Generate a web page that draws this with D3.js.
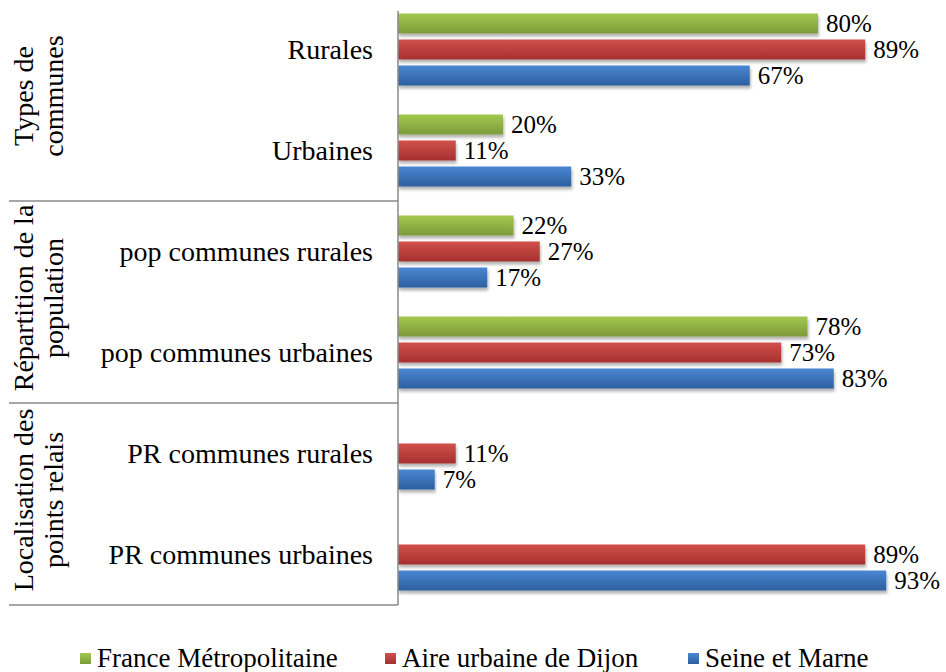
<!DOCTYPE html>
<html>
<head>
<meta charset="utf-8">
<script src="https://cdnjs.cloudflare.com/ajax/libs/d3/7.8.5/d3.min.js"></script>
<style>
  body { margin: 0; background: #fff; }
  svg { display: block; }
</style>
</head>
<body>
<svg width="946" height="672"></svg>
<script>
const categories = ['Rurales', 'Urbaines', 'pop communes rurales', 'pop communes urbaines',
  'PR communes rurales', 'PR communes urbaines'];
const groups = [
  ['Types de', 'communes'],
  ['Répartition de la', 'population'],
  ['Localisation des', 'points relais'],
];
const seriesNames = ['France Métropolitaine', 'Aire urbaine de Dijon', 'Seine et Marne'];
const france = [80, 20, 22, 78, null, null];
const dijon = [89, 11, 27, 73, 11, 89];
const seine = [67, 33, 17, 83, 7, 93];

const series = [france, dijon, seine];
const colors = [
  { top: '#a3c94f', bottom: '#7c9a3a' },
  { top: '#d2504c', bottom: '#a5302e' },
  { top: '#4a87d2', bottom: '#2d5f9f' },
];

const svg = d3.select('svg');
const font = 'Liberation Serif, serif';

const axisX = 398;
const plotTop = -1;
const plotBottom = 605;

const x = d3.scaleLinear().domain([0, 100]).range([axisX, axisX + 525]);
const y = d3.scaleBand().domain(categories).range([plotTop, plotBottom]);
const inner = d3.scaleBand().domain(d3.range(3))
  .range([(y.bandwidth() - 78) / 2, (y.bandwidth() + 78) / 2])
  .paddingInner(0.23).paddingOuter(0.115);

const defs = svg.append('defs');
colors.forEach((c, i) => {
  const g = defs.append('linearGradient').attr('id', `grad${i}`)
    .attr('x1', 0).attr('y1', 0).attr('x2', 0).attr('y2', 1);
  g.append('stop').attr('offset', '0%').attr('stop-color', c.top);
  g.append('stop').attr('offset', '100%').attr('stop-color', c.bottom);
});
defs.append('filter').attr('id', 'shadow')
  .attr('x', '-5%').attr('y', '-20%').attr('width', '110%').attr('height', '160%')
  .append('feDropShadow')
  .attr('dx', 1).attr('dy', 3).attr('stdDeviation', 1.5)
  .attr('flood-color', '#000').attr('flood-opacity', 0.3);

// bars
const bars = svg.append('g');
series.forEach((values, s) => {
  const data = categories.map((c, i) => ({ cat: c, v: values[i] })).filter((d) => d.v != null);
  bars.selectAll(null).data(data).enter()
    .append('rect')
    .attr('x', x(0))
    .attr('y', (d) => y(d.cat) + inner(s))
    .attr('width', (d) => x(d.v) - x(0))
    .attr('height', inner.bandwidth())
    .attr('fill', `url(#grad${s})`)
    .attr('filter', 'url(#shadow)');

  svg.selectAll(null).data(data).enter()
    .append('text')
    .attr('x', (d) => x(d.v) + 8)
    .attr('y', (d) => y(d.cat) + inner(s) + inner.bandwidth() / 2 + 8)
    .attr('font-family', font)
    .attr('font-size', 25)
    .attr('fill', '#000')
    .text((d) => `${d.v}%`);
});

// axis and group separators
const lines = svg.append('g').attr('stroke', '#8a8a8a').attr('stroke-width', 1.5);
lines.append('line').attr('x1', axisX).attr('x2', axisX).attr('y1', 11).attr('y2', plotBottom);
groups.forEach((g, i) => {
  const yb = y(categories[i * 2 + 1]) + y.bandwidth();
  lines.append('line').attr('x1', 9).attr('x2', axisX).attr('y1', yb).attr('y2', yb);
});

// category labels
svg.append('g').selectAll('text').data(categories).enter()
  .append('text')
  .attr('x', 373)
  .attr('y', (d) => y(d) + y.bandwidth() / 2 + 9)
  .attr('text-anchor', 'end')
  .attr('font-family', font)
  .attr('font-size', 28)
  .text((d) => d);

// group labels
groups.forEach((g, i) => {
  const top = y(categories[i * 2]);
  const cy = top + y.bandwidth() - 4;
  const t = svg.append('text')
    .attr('transform', `translate(0,${cy}) rotate(-90)`)
    .attr('text-anchor', 'middle')
    .attr('font-family', font)
    .attr('font-size', 28);
  g.forEach((line, j) => {
    t.append('tspan').attr('x', 0).attr('y', 33 + j * 30).text(line);
  });
});

// legend
const legendX = [80, 385, 688];
const legend = svg.append('g');
seriesNames.forEach((name, i) => {
  legend.append('rect')
    .attr('x', legendX[i]).attr('y', 653)
    .attr('width', 11).attr('height', 11)
    .attr('fill', `url(#grad${i})`);
  legend.append('text')
    .attr('x', legendX[i] + 17).attr('y', 667)
    .attr('font-family', font)
    .attr('font-size', 27)
    .text(name);
});
</script>
</body>
</html>
